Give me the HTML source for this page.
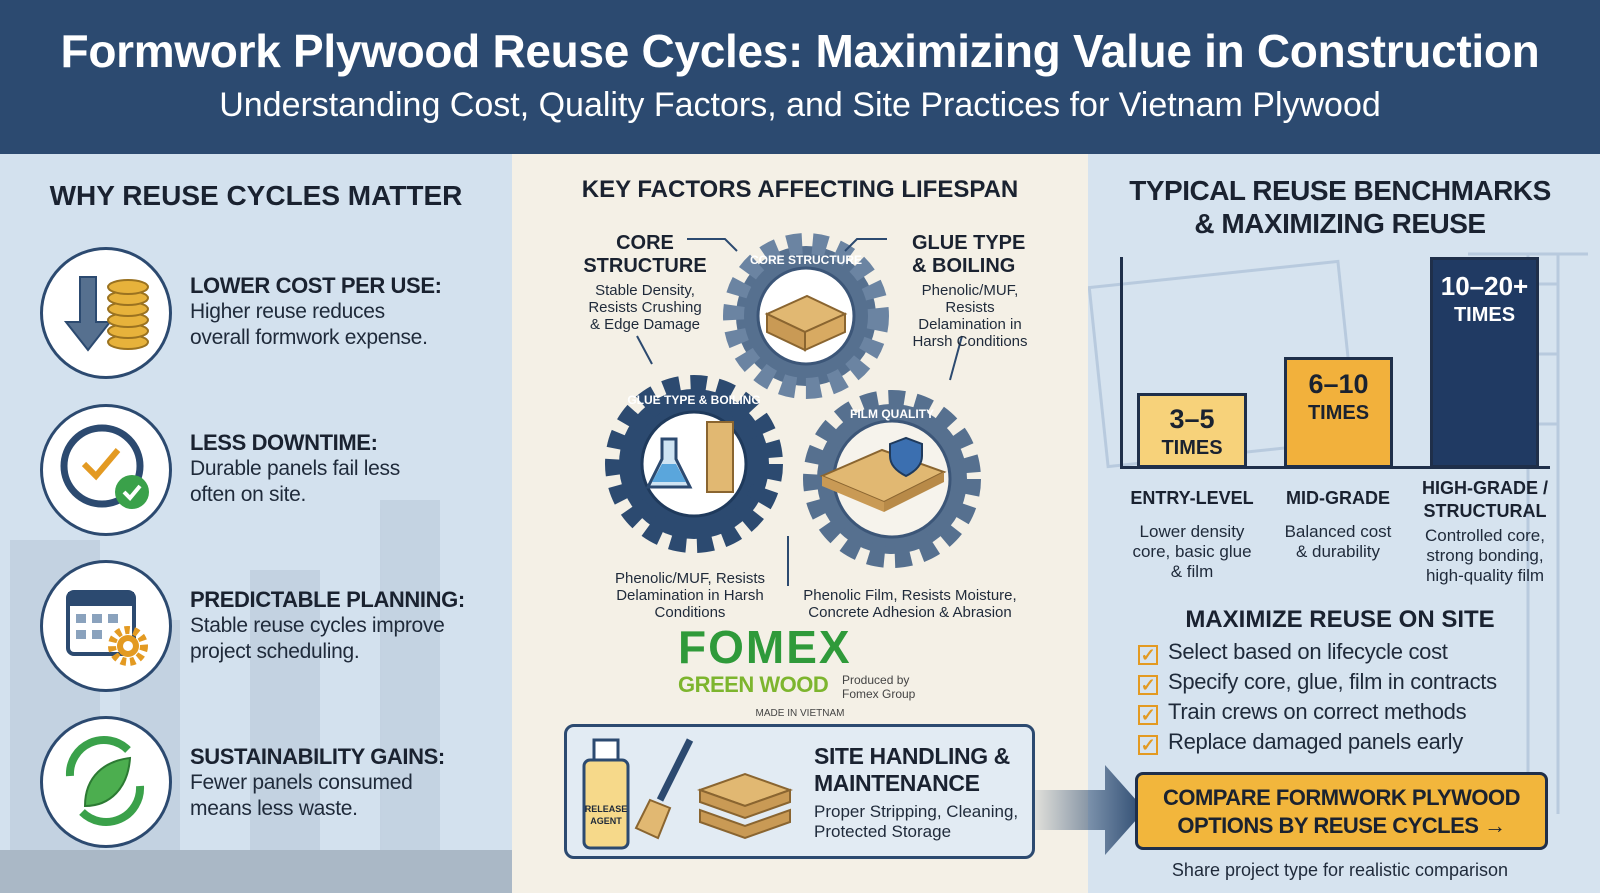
<!DOCTYPE html>
<html><head><meta charset="utf-8">
<style>
*{margin:0;padding:0;box-sizing:border-box}
body{width:1600px;height:893px;overflow:hidden;font-family:"Liberation Sans",sans-serif;background:#f4f0e6;position:relative;color:#1a2230}
.a{position:absolute}
.hdr{left:0;top:0;width:1600px;height:154px;background:#2c4a70}
.t1{left:0;width:1600px;text-align:center;top:24px;color:#fff;font-weight:bold;font-size:46px;letter-spacing:-0.3px}
.t2{left:0;width:1600px;text-align:center;top:86px;color:#fff;font-size:34px}
.lp{left:0;top:154px;width:512px;height:739px;background:#d3e1ee}
.rp{left:1088px;top:154px;width:512px;height:739px;background:#d6e3ef}
.h{font-weight:bold;color:#1a2230;text-align:center}
.circ{width:132px;height:132px;border-radius:50%;background:#fff;border:3px solid #2c4a70}
.lt b{display:block;font-size:22px;color:#1a2230;letter-spacing:-0.4px}
.lt{font-size:21px;line-height:26px;color:#1f2a3a;letter-spacing:-0.3px}
.sm{font-size:15px;line-height:17px;text-align:center;color:#1f2a3a}
.bar{border:3px solid #1f2f4a}
.bl{font-weight:bold;font-size:19px;text-align:center}
.ck{font-size:22px;color:#1f2a3a;letter-spacing:-0.3px}
.ck span{display:inline-block;width:20px;height:20px;border:2px solid #e39a22;margin-right:10px;vertical-align:-2px;color:#e39a22;font-size:18px;line-height:16px;text-align:center;font-weight:bold}
</style></head><body>
<div class="a hdr"></div>
<div class="a t1">Formwork Plywood Reuse Cycles: Maximizing Value in Construction</div>
<div class="a t2">Understanding Cost, Quality Factors, and Site Practices for Vietnam Plywood</div>

<div class="a lp"></div>
<svg class="a" style="left:0;top:480px" width="512" height="413"><g fill="#c0cfdf" opacity=".8"><rect x="10" y="60" width="90" height="353"/><rect x="120" y="140" width="60" height="273"/><rect x="250" y="90" width="70" height="323"/><rect x="380" y="20" width="60" height="393"/></g><rect x="0" y="370" width="512" height="43" fill="#aab8c6"/></svg>
<div class="a h" style="left:0;width:512px;top:180px;font-size:28px">WHY REUSE CYCLES MATTER</div>

<div class="a circ" style="left:40px;top:247px"></div>
<svg class="a" style="left:40px;top:247px" width="132" height="132"><path d="M40 30h16v45h14l-22 28-22-28h14z" fill="#56708f" stroke="#2c4a70" stroke-width="2"/><g fill="#e7b23b" stroke="#9a7220" stroke-width="2"><ellipse cx="88" cy="95" rx="20" ry="7"/><ellipse cx="88" cy="84" rx="20" ry="7"/><ellipse cx="88" cy="73" rx="20" ry="7"/><ellipse cx="88" cy="62" rx="20" ry="7"/><ellipse cx="88" cy="51" rx="20" ry="7"/><ellipse cx="88" cy="40" rx="20" ry="7"/></g></svg>
<div class="a lt" style="left:190px;top:273px"><b>LOWER COST PER USE:</b>Higher reuse reduces<br>overall formwork expense.</div>

<div class="a circ" style="left:40px;top:404px"></div>
<svg class="a" style="left:40px;top:404px" width="132" height="132"><circle cx="62" cy="62" r="38" fill="#fff" stroke="#2c4a70" stroke-width="7"/><path d="M44 60l12 12 22-26" fill="none" stroke="#e39a22" stroke-width="6"/><circle cx="92" cy="88" r="17" fill="#3aa14a"/><path d="M84 88l6 6 10-12" fill="none" stroke="#fff" stroke-width="4"/></svg>
<div class="a lt" style="left:190px;top:430px"><b>LESS DOWNTIME:</b>Durable panels fail less<br>often on site.</div>

<div class="a circ" style="left:40px;top:560px"></div>
<svg class="a" style="left:40px;top:560px" width="132" height="132"><rect x="28" y="32" width="66" height="62" rx="6" fill="#fff" stroke="#2c4a70" stroke-width="4"/><rect x="28" y="32" width="66" height="14" fill="#2c4a70"/><g fill="#8aa2bd"><rect x="36" y="54" width="10" height="9"/><rect x="52" y="54" width="10" height="9"/><rect x="68" y="54" width="10" height="9"/><rect x="36" y="70" width="10" height="9"/><rect x="52" y="70" width="10" height="9"/></g><circle cx="88" cy="86" r="16" fill="none" stroke="#e39a22" stroke-width="8" stroke-dasharray="5 4"/><circle cx="88" cy="86" r="11" fill="#e39a22"/><circle cx="88" cy="86" r="5" fill="#fff"/></svg>
<div class="a lt" style="left:190px;top:587px"><b>PREDICTABLE PLANNING:</b>Stable reuse cycles improve<br>project scheduling.</div>

<div class="a circ" style="left:40px;top:716px"></div>
<svg class="a" style="left:40px;top:716px" width="132" height="132"><path d="M30 60a34 34 0 0 1 58-26" fill="none" stroke="#3aa14a" stroke-width="8"/><path d="M100 70a34 34 0 0 1-58 26" fill="none" stroke="#3aa14a" stroke-width="8"/><path d="M45 90c0-30 20-45 45-48-2 30-20 48-45 48z" fill="#4cae4f" stroke="#2c7a33" stroke-width="2"/></svg>
<div class="a lt" style="left:190px;top:744px"><b>SUSTAINABILITY GAINS:</b>Fewer panels consumed<br>means less waste.</div>

<!-- center -->
<div class="a h" style="left:512px;width:576px;top:176px;font-size:24px">KEY FACTORS AFFECTING LIFESPAN</div>
<svg class="a" style="left:512px;top:154px" width="576" height="560">
<g>
<circle cx="294" cy="162" r="70" fill="#56708f" stroke="#6b84a2" stroke-width="26" stroke-dasharray="14 10"/>
<circle cx="294" cy="162" r="62" fill="#56708f"/>
<circle cx="294" cy="162" r="48" fill="#fff" stroke="#3c5678" stroke-width="3"/>
<path d="M255 160l40-18 38 18-40 18z" fill="#e1b872" stroke="#8a6530" stroke-width="2"/><path d="M255 160v18l38 18v-18z" fill="#c99a55" stroke="#8a6530" stroke-width="2"/><path d="M293 196l40-18v-18l-40 18z" fill="#d8aa62" stroke="#8a6530" stroke-width="2"/>
<text x="294" y="110" font-size="12" fill="#fff" font-weight="bold" text-anchor="middle">CORE STRUCTURE</text>
</g>
<g>
<circle cx="182" cy="310" r="75" fill="#2c4a70" stroke="#2c4a70" stroke-width="28" stroke-dasharray="15 10"/>
<circle cx="182" cy="310" r="52" fill="#fff" stroke="#1f3a5c" stroke-width="3"/>
<path d="M150 285h14v20l14 28h-42l14-28z" fill="#cfe4f3" stroke="#2c4a70" stroke-width="3"/><path d="M140 328l10-18h14l10 18z" fill="#5aa6dc"/>
<rect x="195" y="268" width="26" height="70" fill="#e1b872" stroke="#8a6530" stroke-width="2"/>
<text x="182" y="250" font-size="12" fill="#fff" font-weight="bold" text-anchor="middle">GLUE TYPE &amp; BOILING</text>
</g>
<g>
<circle cx="380" cy="325" r="75" fill="#56708f" stroke="#56708f" stroke-width="28" stroke-dasharray="15 10"/>
<circle cx="380" cy="325" r="58" fill="#f6f3ec" stroke="#3c5678" stroke-width="3"/>
<path d="M310 322l60-26 62 22-60 30z" fill="#e1b872" stroke="#8a6530" stroke-width="2"/><path d="M310 322v10l62 26v-10z" fill="#c99a55"/><path d="M372 358l60-30v-10l-60 30z" fill="#b88a48"/>
<path d="M378 290l16-6 16 6v12c0 10-8 16-16 20-8-4-16-10-16-20z" fill="#3b6fb0" stroke="#1f3a5c" stroke-width="2"/>
<text x="380" y="264" font-size="12" fill="#fff" font-weight="bold" text-anchor="middle">FILM QUALITY</text>
</g>
<g stroke="#2c4a70" stroke-width="2" fill="none"><path d="M175 85h38l12 12"/><path d="M375 85h-30l-12 12"/><path d="M125 182l15 28"/><path d="M450 182l-12 44"/><path d="M276 382v50"/></g>
</svg>
<div class="a h" style="left:570px;top:232px;width:150px;font-size:20px;line-height:23px">CORE<br>STRUCTURE</div>
<div class="a sm" style="left:570px;top:282px;width:150px">Stable Density,<br>Resists Crushing<br>&amp; Edge Damage</div>
<div class="a" style="left:912px;top:232px;font-weight:bold;font-size:20px;line-height:23px">GLUE TYPE<br>&amp; BOILING</div>
<div class="a sm" style="left:905px;top:282px;width:130px">Phenolic/MUF,<br>Resists<br>Delamination in<br>Harsh Conditions</div>
<div class="a sm" style="left:600px;top:570px;width:180px">Phenolic/MUF, Resists<br>Delamination in Harsh<br>Conditions</div>
<div class="a sm" style="left:790px;top:587px;width:240px">Phenolic Film, Resists Moisture,<br>Concrete Adhesion &amp; Abrasion</div>
<div class="a" style="left:678px;top:620px;font-size:46px;font-weight:bold;color:#2f9a3a;letter-spacing:2px">FOMEX</div>
<div class="a" style="left:678px;top:672px;font-size:22px;font-weight:bold;color:#7db52e;letter-spacing:-0.5px">GREEN WOOD</div>
<div class="a" style="left:842px;top:673px;font-size:12px;color:#444;line-height:14px">Produced by<br>Fomex Group</div>
<div class="a" style="left:690px;top:708px;width:220px;text-align:center;font-size:10px;color:#444">MADE IN VIETNAM</div>
<div class="a" style="left:564px;top:724px;width:471px;height:135px;border:3px solid #2c4a70;border-radius:10px;background:#e2ebf3"></div>
<svg class="a" style="left:570px;top:730px" width="230" height="125"><rect x="14" y="30" width="44" height="88" rx="6" fill="#f6d98a" stroke="#2c4a70" stroke-width="3"/><rect x="24" y="10" width="24" height="20" fill="#fff" stroke="#2c4a70" stroke-width="3"/><text x="36" y="82" font-size="9" font-weight="bold" text-anchor="middle" fill="#1f2a3a">RELEASE</text><text x="36" y="94" font-size="9" font-weight="bold" text-anchor="middle" fill="#1f2a3a">AGENT</text><path d="M120 10l-30 60" stroke="#2c4a70" stroke-width="7"/><path d="M80 70l20 8-12 30-22-10z" fill="#e1b872" stroke="#8a6530" stroke-width="2"/><path d="M130 60l45-16 45 16-45 16z" fill="#e1b872" stroke="#8a6530" stroke-width="2"/><path d="M130 60v12l45 16 45-16v-12l-45 16z" fill="#c99a55" stroke="#8a6530" stroke-width="2"/><path d="M130 80v12l45 16 45-16v-12l-45 16z" fill="#c99a55" stroke="#8a6530" stroke-width="2"/></svg>
<div class="a" style="left:814px;top:743px;font-weight:bold;font-size:23px;line-height:27px;letter-spacing:-0.4px">SITE HANDLING &amp;<br>MAINTENANCE</div>
<div class="a" style="left:814px;top:802px;font-size:17px;line-height:20px;color:#1f2a3a">Proper Stripping, Cleaning,<br>Protected Storage</div>

<!-- right -->
<div class="a rp"></div>
<svg class="a" style="left:1088px;top:154px" width="512" height="739"><g stroke="#b5c8dc" stroke-width="3" fill="none" opacity=".9"><rect x="10" y="120" width="250" height="180" transform="rotate(-6 135 210)"/><path d="M440 100v560M470 100v560M440 130h30M440 200h30M440 270h30M380 100h120"/></g></svg>
<div class="a h" style="left:1098px;width:484px;top:174px;font-size:28px;line-height:33px;letter-spacing:-0.5px">TYPICAL REUSE BENCHMARKS<br>&amp; MAXIMIZING REUSE</div>
<div class="a" style="left:1120px;top:257px;width:3px;height:211px;background:#1f2f4a"></div>
<div class="a" style="left:1120px;top:466px;width:430px;height:3px;background:#1f2f4a"></div>
<div class="a bar" style="left:1137px;top:393px;width:110px;height:75px;background:#f7d27a"></div>
<div class="a bl" style="left:1137px;top:405px;width:110px;font-size:27px;line-height:29px">3–5<div style="font-size:20px">TIMES</div></div>
<div class="a bar" style="left:1284px;top:357px;width:109px;height:111px;background:#f2b13c"></div>
<div class="a bl" style="left:1284px;top:370px;width:109px;font-size:27px;line-height:29px">6–10<div style="font-size:20px">TIMES</div></div>
<div class="a bar" style="left:1430px;top:257px;width:109px;height:211px;background:#203a63"></div>
<div class="a bl" style="left:1430px;top:272px;width:109px;font-size:26px;line-height:29px;color:#fff">10–20+<div style="font-size:20px">TIMES</div></div>
<div class="a bl" style="left:1122px;top:488px;width:140px;font-size:18px">ENTRY-LEVEL</div>
<div class="a bl" style="left:1268px;top:488px;width:140px;font-size:18px">MID-GRADE</div>
<div class="a bl" style="left:1405px;top:477px;width:160px;line-height:23px;font-size:18px">HIGH-GRADE /<br>STRUCTURAL</div>
<div class="a sm" style="left:1122px;top:522px;width:140px;font-size:17px;line-height:20px">Lower density<br>core, basic glue<br>&amp; film</div>
<div class="a sm" style="left:1268px;top:522px;width:140px;font-size:17px;line-height:20px">Balanced cost<br>&amp; durability</div>
<div class="a sm" style="left:1405px;top:526px;width:160px;font-size:17px;line-height:20px">Controlled core,<br>strong bonding,<br>high-quality film</div>
<div class="a h" style="left:1098px;width:484px;top:606px;font-size:24px">MAXIMIZE REUSE ON SITE</div>
<div class="a ck" style="left:1138px;top:639px"><span>✓</span>Select based on lifecycle cost</div>
<div class="a ck" style="left:1138px;top:669px"><span>✓</span>Specify core, glue, film in contracts</div>
<div class="a ck" style="left:1138px;top:699px"><span>✓</span>Train crews on correct methods</div>
<div class="a ck" style="left:1138px;top:729px"><span>✓</span>Replace damaged panels early</div>
<svg class="a" style="left:1035px;top:765px" width="110" height="90"><defs><linearGradient id="g" x1="0" x2="1"><stop offset="0" stop-color="#2c4a70" stop-opacity=".1"/><stop offset="1" stop-color="#2c4a70"/></linearGradient></defs><path d="M0 25h70V0l40 45-40 45V65H0z" fill="url(#g)"/></svg>
<div class="a" style="left:1135px;top:772px;width:413px;height:78px;background:#f2b63c;border:3px solid #1f2f4a;border-radius:8px;text-align:center;font-weight:bold;font-size:22px;line-height:28px;padding-top:9px;color:#1a2230;letter-spacing:-0.5px;white-space:nowrap">COMPARE FORMWORK PLYWOOD<br>OPTIONS BY REUSE CYCLES →</div>
<div class="a" style="left:1098px;width:484px;top:860px;text-align:center;font-size:18px;color:#1f2a3a">Share project type for realistic comparison</div>
</body></html>
